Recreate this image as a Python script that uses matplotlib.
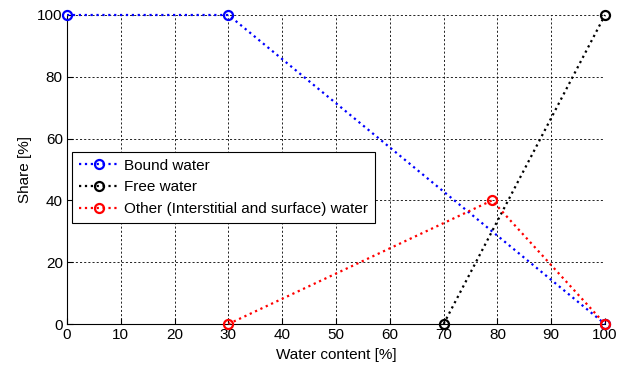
import matplotlib
matplotlib.use('Agg')
import matplotlib.pyplot as plt

# data
bound_x = [0, 30, 100]
bound_y = [100, 100, 0]
free_x = [70, 100]
free_y = [0, 100]
other_x = [30, 79, 100]
other_y = [0, 40, 0]
xticks = [0, 10, 20, 30, 40, 50, 60, 70, 80, 90, 100]
yticks = [0, 20, 40, 60, 80, 100]

plt.rcParams['font.family'] = ['Liberation Sans', 'DejaVu Sans']
plt.rcParams['font.size'] = 11

fig = plt.figure(figsize=(6.28, 3.72), dpi=100)
ax = fig.add_axes([0.1067, 0.129, 0.8567, 0.8307])

kw = dict(linestyle=':', linewidth=1.6, marker='o', markersize=6.5,
          markerfacecolor='none', markeredgewidth=1.6, clip_on=False, zorder=3)
ax.plot(bound_x, bound_y, color='#0000ff', label='Bound water', **kw)
ax.plot(free_x, free_y, color='black', label='Free water', **kw)
ax.plot(other_x, other_y, color='#ff0000', label='Other (Interstitial and surface) water', **kw)

ax.set_xlim(0, 100)
ax.set_ylim(0, 100)
ax.set_xticks(xticks)
ax.set_yticks(yticks)
ax.grid(True, color='black', linestyle=(0, (2.5, 2.5)), linewidth=0.6)
ax.spines['top'].set_visible(False)
ax.spines['right'].set_visible(False)
ax.tick_params(direction='in', length=4, pad=3)
ax.set_xlabel('Water content [%]', labelpad=4)
ax.set_ylabel('Share [%]', labelpad=4)

leg = ax.legend(loc='upper left', bbox_to_anchor=(0.009, 0.557), fancybox=False,
                framealpha=1, edgecolor='black', borderpad=0.45, labelspacing=0.5,
                handlelength=2.6, handletextpad=0.35, borderaxespad=0)
leg.get_frame().set_linewidth(0.8)

fig.savefig('out.png', dpi=100)
